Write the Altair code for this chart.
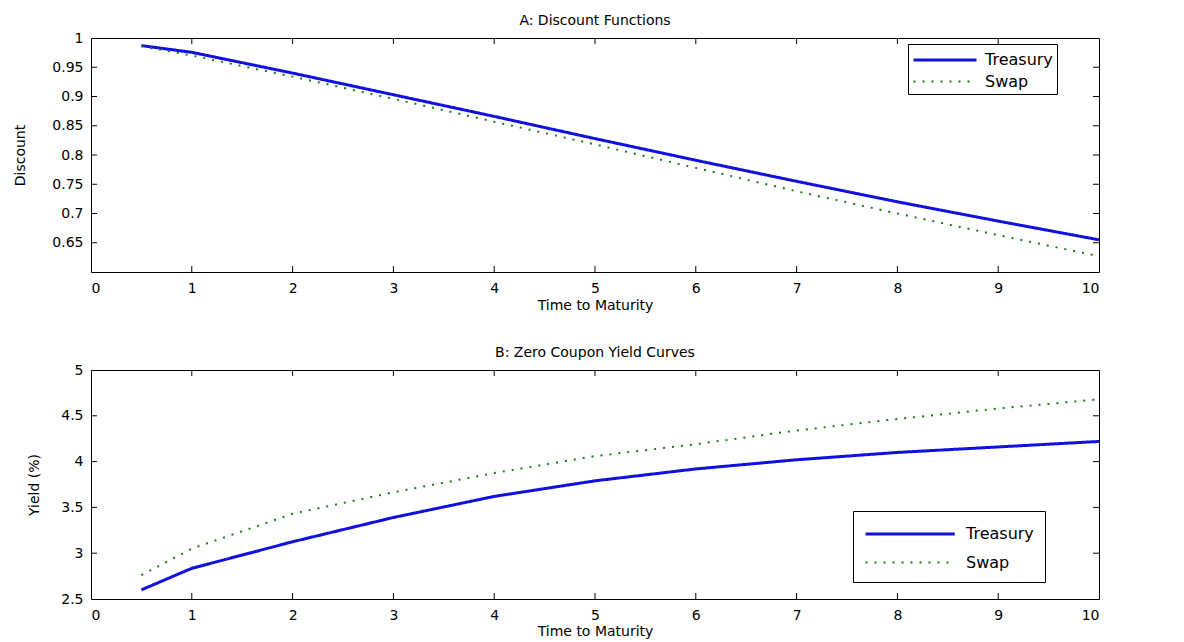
import altair as alt
import pandas as pd

# ---------------- data ----------------
maturity = [0.5, 1, 2, 3, 4, 5, 6, 7, 8, 9, 10]
series_names = ["Treasury", "Swap"]

discount_treasury = [0.987, 0.9755, 0.940, 0.903, 0.866, 0.828, 0.791, 0.755, 0.720, 0.687, 0.655]
discount_swap = [0.986, 0.970, 0.934, 0.896, 0.857, 0.818, 0.778, 0.738, 0.700, 0.663, 0.627]

yield_treasury = [2.60, 2.835, 3.125, 3.39, 3.62, 3.79, 3.92, 4.02, 4.10, 4.16, 4.22]
yield_swap = [2.76, 3.05, 3.43, 3.665, 3.875, 4.06, 4.19, 4.34, 4.465, 4.58, 4.68]

x_tick_labels = [0, 1, 2, 3, 4, 5, 6, 7, 8, 9, 10]
x_inner_ticks = [1, 2, 3, 4, 5, 6, 7, 8, 9]
disc_tick_labels = [0.65, 0.7, 0.75, 0.8, 0.85, 0.9, 0.95, 1.0]
disc_inner_ticks = [0.65, 0.7, 0.75, 0.8, 0.85, 0.9, 0.95]
yield_tick_labels = [2.5, 3, 3.5, 4, 4.5, 5]
yield_inner_ticks = [3, 3.5, 4, 4.5]

colors = ["#1010e0", "#1a7a1a"]
FONT = "DejaVu Sans"
W = 1008


def long_df(a, b):
    rows = []
    for t, v in zip(maturity, a):
        rows.append({"t": t, "v": v, "series": series_names[0]})
    for t, v in zip(maturity, b):
        rows.append({"t": t, "v": v, "series": series_names[1]})
    return pd.DataFrame(rows)


def panel(df, title, ytitle, ydomain, ylabels, yinner, H, lx, ly, sym_path, lab_off, pad,
          rowpad, ytp, xtp):
    xs = alt.Scale(domain=[0, 10], nice=False, zero=False)
    ys = alt.Scale(domain=ydomain, nice=False, zero=False)
    lines = alt.Chart(df).mark_line(clip=True).encode(
        x=alt.X("t:Q", scale=xs,
                axis=alt.Axis(values=x_tick_labels, tickCount=20, format="~g",
                              title="Time to Maturity",
                              ticks=False, domain=False, grid=False, labelOverlap=False,
                              labelPadding=9, titlePadding=xtp)),
        y=alt.Y("v:Q", scale=ys,
                axis=alt.Axis(values=ylabels, tickCount=20, format="~g", title=ytitle,
                              ticks=False, domain=False, grid=False, labelOverlap=False,
                              labelPadding=8, titlePadding=ytp)),
        color=alt.Color("series:N", scale=alt.Scale(domain=series_names, range=colors),
                        legend=alt.Legend(title=None, orient="none", legendX=lx, legendY=ly,
                                          strokeColor="black", fillColor="white",
                                          padding=pad, symbolType=sym_path, symbolSize=441,
                                          labelFontSize=16, labelFont=FONT, labelColor="black",
                                          labelOffset=lab_off, rowPadding=rowpad)),
        strokeDash=alt.StrokeDash("series:N",
                                  scale=alt.Scale(domain=series_names, range=[[1, 0], [2, 7]])),
        strokeWidth=alt.StrokeWidth("series:N",
                                    scale=alt.Scale(domain=series_names, range=[3, 2])),
        order=alt.Order("t:Q"),
    )
    xt = pd.DataFrame({"t": x_inner_ticks})
    yt = pd.DataFrame({"v": yinner})
    top_ticks = alt.Chart(xt).mark_rule(color="black").encode(
        x=alt.X("t:Q", scale=xs), y=alt.value(0), y2=alt.value(6))
    bot_ticks = alt.Chart(xt).mark_rule(color="black").encode(
        x=alt.X("t:Q", scale=xs), y=alt.value(H - 6), y2=alt.value(H))
    left_ticks = alt.Chart(yt).mark_rule(color="black").encode(
        y=alt.Y("v:Q", scale=ys), x=alt.value(0), x2=alt.value(6))
    right_ticks = alt.Chart(yt).mark_rule(color="black").encode(
        y=alt.Y("v:Q", scale=ys), x=alt.value(W - 6), x2=alt.value(W))
    return alt.layer(lines, top_ticks, bot_ticks, left_ticks, right_ticks).properties(
        width=W, height=H,
        title=alt.TitleParams(title, fontSize=14, font=FONT, fontWeight="normal",
                              color="black", offset=3, anchor="middle", frame="group"),
    )


top = panel(long_df(discount_treasury, discount_swap), "A: Discount Functions", "Discount",
            [0.6, 1.0], disc_tick_labels, disc_inner_ticks, 234,
            817, 6, "M-1,0H5", 49, 4, 2, 24, 3)
bottom = panel(long_df(yield_treasury, yield_swap), "B: Zero Coupon Yield Curves", "Yield (%)",
               [2.5, 5.0], yield_tick_labels, yield_inner_ticks, 229,
               762, 141, "M-1,0H7.5", 78, 11, 9, 19, 2)

chart = alt.vconcat(top, bottom, spacing=32).resolve_scale(
    color="independent", strokeDash="independent", strokeWidth="independent"
).resolve_legend(
    color="independent", strokeDash="independent", strokeWidth="independent"
).properties(
    padding={"left": 5, "top": 5, "right": 5, "bottom": 0},
    background="white"
).configure_view(
    stroke="black", strokeWidth=1
).configure_axis(
    labelFont=FONT, titleFont=FONT, labelFontSize=14, titleFontSize=14,
    labelColor="black", titleColor="black", titleFontWeight="normal",
    labelOverlap=False
)

chart.save("out.html", embed_options={"renderer": "svg", "actions": False})
